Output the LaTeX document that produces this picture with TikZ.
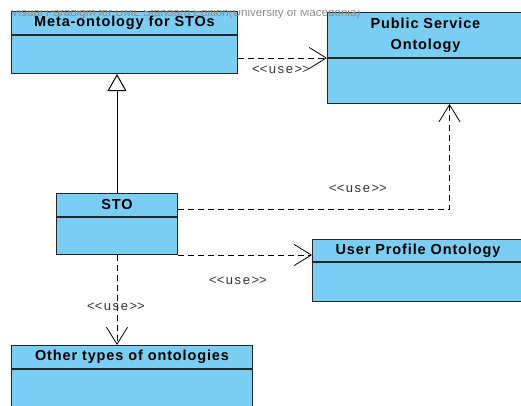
\documentclass[tikz,border=0pt]{standalone}
\usepackage{fontspec}
\setmainfont{Liberation Sans}
\usepackage{tikz}
\usetikzlibrary{arrows.meta}

\definecolor{classblue}{RGB}{122,206,243}
\newcommand{\usetag}{<\kern0pt<use>\kern0pt>}
\tikzset{
  head/.style={draw=black!85, line width=1pt, fill=classblue, anchor=north west,
    inner sep=0pt, align=center,
    font=\bfseries\fontsize{14.5}{16}\selectfont\addfontfeature{LetterSpace=6}},
  body/.style={draw=black!85, line width=1pt, fill=classblue, anchor=north, inner sep=0pt},
  use/.style={dash pattern=on 6pt off 4pt, line width=0.8pt,
    -{Straight Barb[length=17pt,width=21pt,line width=0.8pt]}},
  usetext/.style={text=black!80,
    font=\fontsize{13}{15}\selectfont\addfontfeature{LetterSpace=12}}
}

\begin{document}
\begin{tikzpicture}[x=1pt,y=1pt]
\useasboundingbox (0,0) rectangle (521,-405);

% classes
\node[head, minimum width=226, minimum height=23] (metah) at (11,-11) {Meta-ontology for STOs};
\node[body, minimum width=226, minimum height=38] (metab) at (metah.south) {};

\node[head, minimum width=196, minimum height=45] (pubh) at (327,-12) {Public Service\\[5pt]Ontology};
\node[body, minimum width=196, minimum height=45] (pubb) at (pubh.south) {};

\node[head, minimum width=121, minimum height=23] (stoh) at (56,-193) {STO};
\node[body, minimum width=121, minimum height=37] (stob) at (stoh.south) {};

\node[head, minimum width=211, minimum height=22] (usrh) at (312,-239) {User Profile Ontology};
\node[body, minimum width=211, minimum height=39] (usrb) at (usrh.south) {};

\node[head, minimum width=241, minimum height=23] (othh) at (11,-345) {Other types of ontologies};
\node[body, minimum width=241, minimum height=45] (othb) at (othh.south) {};

% generalization
\draw[line width=1pt, -{Triangle[open, length=17pt, width=19pt, line width=1pt]}]
  (stoh.north) -- (stoh.north |- metab.south);

% dependencies
\draw[use] (metab.east |- pubh.south) -- (pubh.south west);
\draw[use] ([yshift=-4pt]stoh.east) -| ([xshift=24pt]pubb.south);
\draw[use] (stob.south east) -- (stob.south east -| usrh.west);
\draw[use] (stob.south) -- (stob.south |- othh.north);

\node[usetext] (use1) at (281,-70) {\usetag};
\node[usetext] (use2) at (358,-189) {\usetag};
\node[usetext] (use3) at (238,-281) {\usetag};
\node[usetext, inner sep=0pt] (use4) at (116,-307) {\usetag};

% watermark, cut off at the top
\begin{scope}
  \clip (0,-10) rectangle (521,-405);
  \node[anchor=base west, inner sep=0pt, text=black!45, font=\fontsize{11.6}{13}\selectfont] (wm) at (11,-16)
    {Visual Paradigm for UML Standard Edition(University of Macedonia)};
\end{scope}
\end{tikzpicture}
\end{document}
